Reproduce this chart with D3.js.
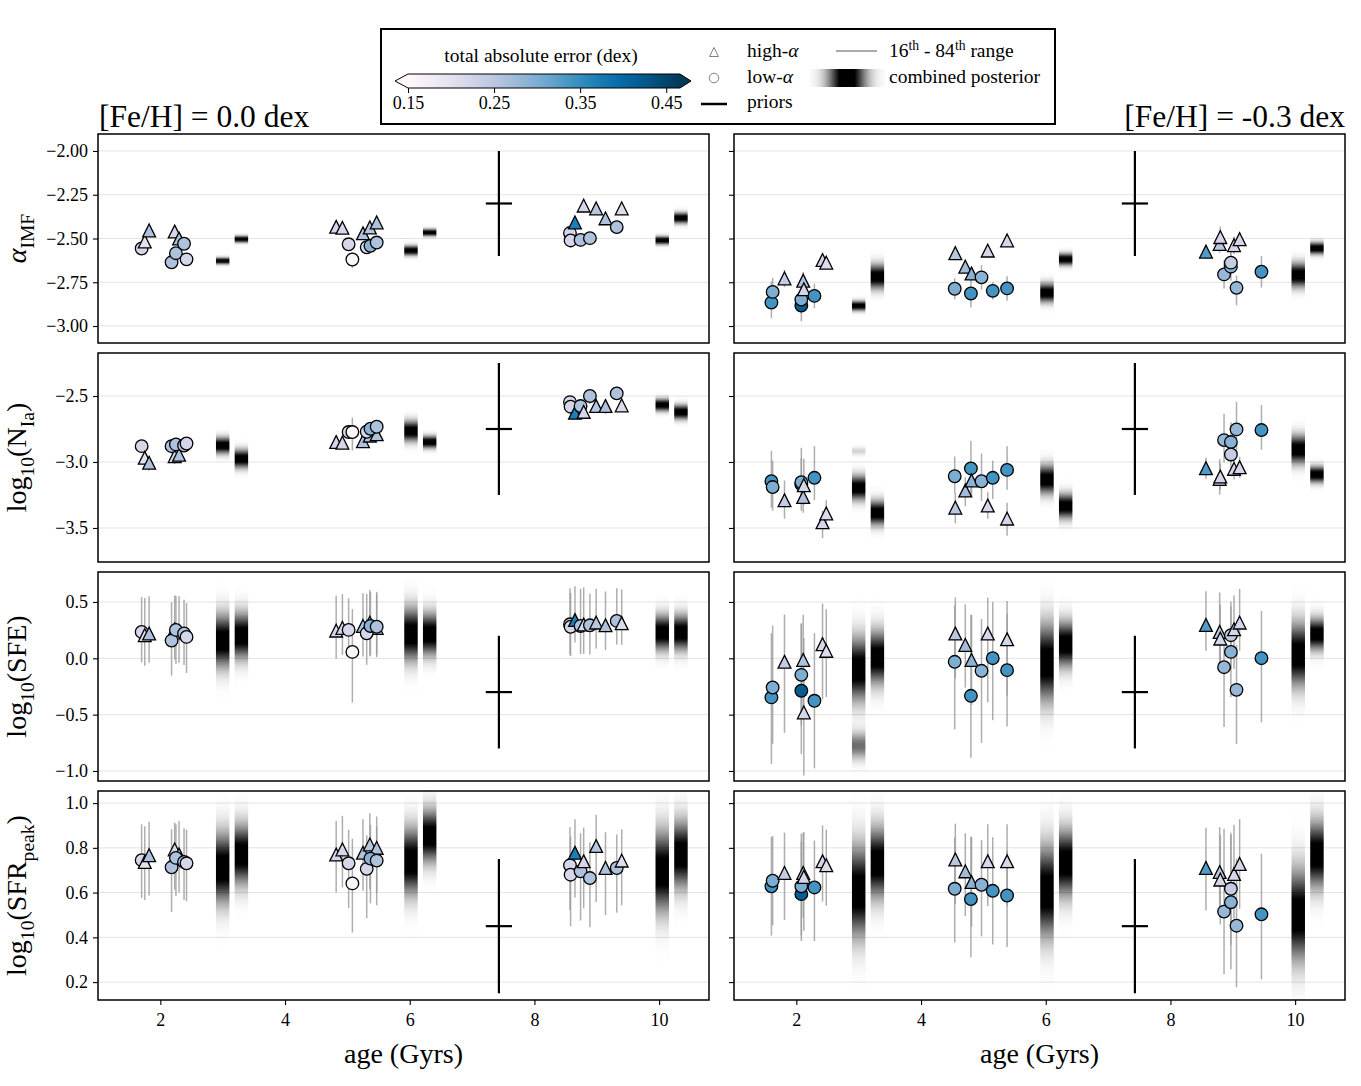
<!DOCTYPE html>
<html>
<head>
<meta charset="utf-8">
<script src="https://cdn.jsdelivr.net/npm/d3@7"></script>
<style>
  body { margin: 0; background: #fff; }
  svg text { font-family: "Liberation Serif", "DejaVu Serif", serif; fill: #000; }
</style>
</head>
<body>
<div id="chart"></div>
<script>
// ---------------------------//
//       DATA                 //
// ---------------------------//
// stars: [age (Gyr), population, total absolute error (dex)]
const starsFe00 = [
  [1.70, "low", 0.22], [1.75, "high", 0.20], [1.82, "high", 0.26], [2.23, "high", 0.22], [2.30, "high", 0.26],
  [2.18, "low", 0.26], [2.25, "low", 0.26], [2.38, "low", 0.26], [2.42, "low", 0.22],
  [4.82, "high", 0.22], [4.92, "high", 0.22], [5.02, "low", 0.22], [5.08, "low", 0.16], [5.25, "high", 0.26],
  [5.36, "high", 0.25], [5.47, "high", 0.26], [5.31, "low", 0.22], [5.37, "low", 0.29], [5.47, "low", 0.26],
  [8.57, "low", 0.22], [8.58, "low", 0.22], [8.65, "high", 0.37], [8.74, "low", 0.26], [8.79, "high", 0.22],
  [8.89, "low", 0.26], [8.99, "high", 0.25], [9.14, "high", 0.26], [9.32, "low", 0.26], [9.40, "high", 0.21]
];
const starsFe03 = [
  [1.60, "low", 0.34], [1.62, "low", 0.30], [1.81, "high", 0.24], [2.08, "low", 0.42], [2.08, "low", 0.30],
  [2.11, "high", 0.26], [2.12, "high", 0.22], [2.29, "low", 0.34], [2.42, "high", 0.22], [2.48, "high", 0.21],
  [4.54, "low", 0.30], [4.55, "high", 0.25], [4.71, "high", 0.27], [4.80, "low", 0.34], [4.81, "high", 0.29],
  [4.97, "low", 0.29], [5.07, "high", 0.22], [5.15, "low", 0.34], [5.38, "high", 0.22], [5.38, "low", 0.34],
  [8.57, "high", 0.33], [8.79, "high", 0.25], [8.80, "high", 0.22], [8.86, "low", 0.28], [8.97, "low", 0.29],
  [8.97, "low", 0.24], [9.02, "high", 0.22], [9.06, "low", 0.28], [9.11, "high", 0.22], [9.46, "low", 0.34]
];

// per panel, one entry per star: [median, median - 16th, 84th - median]
const alphaFe00 = [
  [-2.557, 0.03, 0.03], [-2.517, 0.03, 0.03], [-2.454, 0.03, 0.03], [-2.46, 0.03, 0.03], [-2.50, 0.03, 0.03],
  [-2.636, 0.03, 0.03], [-2.584, 0.03, 0.03], [-2.53, 0.03, 0.03], [-2.619, 0.03, 0.03],
  [-2.433, 0.03, 0.03], [-2.439, 0.03, 0.03], [-2.533, 0.03, 0.03], [-2.62, 0.05, 0.04], [-2.47, 0.03, 0.03],
  [-2.437, 0.03, 0.03], [-2.408, 0.03, 0.03], [-2.55, 0.03, 0.03], [-2.542, 0.03, 0.03], [-2.523, 0.03, 0.03],
  [-2.469, 0.03, 0.03], [-2.511, 0.04, 0.03], [-2.408, 0.03, 0.03], [-2.508, 0.04, 0.03], [-2.312, 0.03, 0.03],
  [-2.498, 0.04, 0.03], [-2.328, 0.03, 0.03], [-2.385, 0.03, 0.03], [-2.435, 0.04, 0.03], [-2.328, 0.03, 0.03]
];
const nIaFe00 = [
  [-2.88, 0.05, 0.05], [-2.968, 0.05, 0.05], [-3.006, 0.06, 0.05], [-2.956, 0.06, 0.05], [-2.945, 0.06, 0.05],
  [-2.88, 0.06, 0.05], [-2.867, 0.05, 0.05], [-2.875, 0.05, 0.05], [-2.86, 0.05, 0.05],
  [-2.849, 0.05, 0.05], [-2.854, 0.05, 0.05], [-2.773, 0.05, 0.05], [-2.773, 0.14, 0.11], [-2.842, 0.05, 0.05],
  [-2.80, 0.05, 0.05], [-2.79, 0.05, 0.05], [-2.771, 0.05, 0.05], [-2.748, 0.05, 0.05], [-2.733, 0.05, 0.05],
  [-2.546, 0.05, 0.05], [-2.581, 0.05, 0.05], [-2.627, 0.05, 0.05], [-2.576, 0.06, 0.05], [-2.62, 0.05, 0.05],
  [-2.50, 0.06, 0.05], [-2.576, 0.05, 0.05], [-2.576, 0.06, 0.05], [-2.48, 0.05, 0.05], [-2.571, 0.05, 0.05]
];
const sfeFe00 = [
  [0.234, 0.27, 0.31], [0.205, 0.27, 0.33], [0.22, 0.26, 0.33], [0.258, 0.27, 0.30], [0.23, 0.27, 0.32],
  [0.157, 0.31, 0.34], [0.252, 0.30, 0.30], [0.22, 0.28, 0.30], [0.19, 0.32, 0.30],
  [0.246, 0.25, 0.31], [0.27, 0.24, 0.30], [0.252, 0.24, 0.28], [0.057, 0.45, 0.38], [0.287, 0.27, 0.29],
  [0.317, 0.30, 0.29], [0.27, 0.26, 0.30], [0.222, 0.28, 0.35], [0.287, 0.26, 0.30], [0.28, 0.25, 0.31],
  [0.302, 0.27, 0.32], [0.28, 0.26, 0.30], [0.34, 0.20, 0.30], [0.287, 0.25, 0.33], [0.30, 0.26, 0.33],
  [0.293, 0.26, 0.28], [0.317, 0.23, 0.30], [0.293, 0.22, 0.30], [0.332, 0.21, 0.29], [0.311, 0.19, 0.30]
];
const sfrFe00 = [
  [0.745, 0.17, 0.16], [0.737, 0.17, 0.16], [0.767, 0.18, 0.15], [0.793, 0.18, 0.12], [0.77, 0.17, 0.15],
  [0.713, 0.20, 0.17], [0.755, 0.17, 0.15], [0.737, 0.17, 0.15], [0.731, 0.17, 0.15],
  [0.77, 0.17, 0.15], [0.793, 0.17, 0.15], [0.731, 0.20, 0.15], [0.641, 0.22, 0.20], [0.778, 0.17, 0.15],
  [0.815, 0.20, 0.14], [0.80, 0.20, 0.14], [0.706, 0.22, 0.15], [0.752, 0.20, 0.15], [0.743, 0.20, 0.15],
  [0.722, 0.20, 0.17], [0.68, 0.23, 0.17], [0.778, 0.20, 0.15], [0.695, 0.22, 0.17], [0.74, 0.21, 0.15],
  [0.665, 0.22, 0.16], [0.808, 0.25, 0.14], [0.71, 0.21, 0.16], [0.71, 0.20, 0.15], [0.743, 0.20, 0.14]
];
const alphaFe03 = [
  [-2.866, 0.09, 0.12], [-2.805, 0.08, 0.08], [-2.728, 0.05, 0.05], [-2.883, 0.09, 0.08], [-2.849, 0.08, 0.08],
  [-2.741, 0.05, 0.05], [-2.79, 0.05, 0.05], [-2.828, 0.07, 0.07], [-2.623, 0.03, 0.03], [-2.638, 0.03, 0.03],
  [-2.787, 0.06, 0.06], [-2.584, 0.04, 0.04], [-2.661, 0.04, 0.04], [-2.814, 0.08, 0.15], [-2.70, 0.04, 0.04],
  [-2.722, 0.07, 0.07], [-2.569, 0.03, 0.03], [-2.799, 0.05, 0.05], [-2.511, 0.03, 0.03], [-2.785, 0.07, 0.07],
  [-2.575, 0.04, 0.04], [-2.531, 0.05, 0.05], [-2.492, 0.06, 0.06], [-2.705, 0.08, 0.08], [-2.661, 0.08, 0.08],
  [-2.638, 0.06, 0.06], [-2.538, 0.05, 0.05], [-2.782, 0.10, 0.07], [-2.504, 0.04, 0.04], [-2.69, 0.09, 0.09]
];
const nIaFe03 = [
  [-3.146, 0.20, 0.23], [-3.19, 0.18, 0.20], [-3.29, 0.14, 0.15], [-3.17, 0.20, 0.20], [-3.153, 0.17, 0.26],
  [-3.265, 0.12, 0.12], [-3.176, 0.15, 0.20], [-3.12, 0.17, 0.24], [-3.457, 0.12, 0.09], [-3.39, 0.12, 0.10],
  [-3.108, 0.13, 0.15], [-3.346, 0.12, 0.11], [-3.216, 0.12, 0.10], [-3.049, 0.19, 0.21], [-3.14, 0.12, 0.12],
  [-3.146, 0.15, 0.21], [-3.33, 0.10, 0.10], [-3.12, 0.16, 0.13], [-3.429, 0.13, 0.12], [-3.06, 0.15, 0.18],
  [-3.047, 0.08, 0.08], [-3.128, 0.12, 0.15], [-3.11, 0.10, 0.10], [-2.834, 0.17, 0.20], [-2.849, 0.15, 0.15],
  [-2.943, 0.12, 0.12], [-3.052, 0.08, 0.08], [-2.753, 0.20, 0.21], [-3.04, 0.08, 0.08], [-2.758, 0.15, 0.19]
];
const sfeFe03 = [
  [-0.347, 0.59, 0.57], [-0.259, 0.50, 0.55], [-0.031, 0.63, 0.42], [-0.288, 0.56, 0.60], [-0.147, 0.45, 0.45],
  [-0.014, 0.50, 0.40], [-0.48, 0.56, 0.66], [-0.377, 0.60, 0.60], [0.125, 0.49, 0.36], [0.066, 0.41, 0.37],
  [-0.031, 0.60, 0.50], [0.22, 0.40, 0.32], [0.119, 0.38, 0.36], [-0.333, 0.55, 0.72], [-0.014, 0.40, 0.40],
  [-0.111, 0.64, 0.46], [0.22, 0.61, 0.32], [0.001, 0.55, 0.50], [0.169, 0.50, 0.34], [-0.105, 0.50, 0.50],
  [0.296, 0.23, 0.30], [0.234, 0.30, 0.35], [0.175, 0.30, 0.30], [-0.079, 0.53, 0.25], [0.057, 0.40, 0.40],
  [0.205, 0.30, 0.30], [0.258, 0.35, 0.30], [-0.28, 0.48, 0.40], [0.317, 0.25, 0.30], [0.001, 0.57, 0.42]
];
const sfrFe03 = [
  [0.628, 0.22, 0.22], [0.653, 0.20, 0.20], [0.688, 0.21, 0.18], [0.593, 0.21, 0.27], [0.628, 0.22, 0.20],
  [0.688, 0.20, 0.18], [0.67, 0.24, 0.20], [0.623, 0.24, 0.21], [0.74, 0.18, 0.16], [0.722, 0.18, 0.16],
  [0.617, 0.24, 0.23], [0.748, 0.20, 0.16], [0.695, 0.20, 0.17], [0.571, 0.26, 0.28], [0.647, 0.20, 0.20],
  [0.635, 0.23, 0.20], [0.74, 0.20, 0.165], [0.608, 0.24, 0.24], [0.74, 0.20, 0.165], [0.587, 0.23, 0.20],
  [0.71, 0.19, 0.18], [0.692, 0.20, 0.20], [0.658, 0.20, 0.20], [0.515, 0.28, 0.37], [0.557, 0.30, 0.30],
  [0.617, 0.25, 0.25], [0.683, 0.20, 0.22], [0.452, 0.275, 0.30], [0.728, 0.20, 0.20], [0.503, 0.29, 0.27]
];

// combined posteriors: [age, mean, sigma, (second mode mean, sigma, weight)]
const postAlphaFe00 = [[3.0, -2.628, 0.012], [3.3, -2.504, 0.012], [6.02, -2.569, 0.018], [6.32, -2.466, 0.013], [10.05, -2.511, 0.015], [10.35, -2.383, 0.02]];
const postNIaFe00 = [[3.0, -2.875, 0.04], [3.3, -2.976, 0.045], [6.02, -2.766, 0.05], [6.32, -2.849, 0.03], [10.05, -2.568, 0.03], [10.35, -2.622, 0.035]];
const postSfeFe00 = [[3.0, 0.155, 0.15], [3.3, 0.2, 0.13], [6.02, 0.214, 0.15], [6.32, 0.214, 0.12], [10.05, 0.228, 0.1], [10.35, 0.228, 0.1]];
const postSfrFe00 = [[3.0, 0.71, 0.1], [3.3, 0.77, 0.085], [6.02, 0.74, 0.095], [6.32, 0.853, 0.075], [10.05, 0.695, 0.115], [10.35, 0.77, 0.095]];
const postAlphaFe03 = [[3.0, -2.885, 0.018], [3.3, -2.718, 0.045], [6.02, -2.81, 0.035], [6.32, -2.619, 0.022], [10.05, -2.709, 0.045], [10.35, -2.556, 0.022]];
const postNIaFe03 = [[3.0, -3.196, 0.06, -2.918, 0.02, 0.15], [3.3, -3.386, 0.06], [6.02, -3.133, 0.07], [6.32, -3.335, 0.06], [10.05, -2.905, 0.07], [10.35, -3.095, 0.04]];
const postSfeFe03 = [[3.0, -0.096, 0.18, -0.775, 0.08, 0.5], [3.3, 0.007, 0.15], [6.02, -0.037, 0.22], [6.32, 0.125, 0.13], [10.05, 0.032, 0.18], [10.35, 0.214, 0.09]];
const postSfrFe03 = [[3.0, 0.605, 0.13], [3.3, 0.733, 0.1], [6.02, 0.605, 0.13], [6.32, 0.733, 0.095], [10.05, 0.5, 0.13], [10.35, 0.77, 0.095]];

// priors: centre and half range for each parameter
const priorAge = 7.43;
const priorMean = [-2.3, -2.75, -0.3, 0.45];
const priorHalf = [0.3, 0.5, 0.5, 0.3];

const panelTitles = ["[Fe/H] = 0.0 dex", "[Fe/H] = -0.3 dex"];
const ageTicks = [2, 4, 6, 8, 10];
const yTicks = [[-2.0, -2.25, -2.5, -2.75, -3.0], [-2.5, -3.0, -3.5], [0.5, 0.0, -0.5, -1.0], [1.0, 0.8, 0.6, 0.4, 0.2]];
const yFormats = [".2f", ".1f", ".1f", ".1f"];
const yDomains = [[-3.097, -1.903], [-3.758, -2.174], [-1.089, 0.766], [0.12, 1.054]];
const ageDomain = [1.0, 10.8];
const errRange = [0.15, 0.466];
const colorTicks = [0.15, 0.25, 0.35, 0.45];

// ---------------------------//
//       LAYOUT               //
// ---------------------------//
var W = 1361, H = 1086;
var colX = [[98, 709], [734, 1345]];
var rowY = [[134, 343], [353, 562], [572, 781], [791, 1000]];
var stripHalf = 0.108; // half width of posterior strips, in Gyr
var tickFont = "18px", legFont = 19.5;

var starSets = [starsFe00, starsFe03];
var valueSets = [[alphaFe00, nIaFe00, sfeFe00, sfrFe00], [alphaFe03, nIaFe03, sfeFe03, sfrFe03]];
var postSets = [[postAlphaFe00, postNIaFe00, postSfeFe00, postSfrFe00], [postAlphaFe03, postNIaFe03, postSfeFe03, postSfrFe03]];

var svg = d3.select("#chart").append("svg")
  .attr("width", W)
  .attr("height", H);
var defs = svg.append("defs");

var color = d3.scaleSequential(d3.interpolatePuBu).domain(errRange).clamp(true);

// writes text with sub/superscripts; parts = [text, "n"|"sub"|"sup", italic]
function richText(sel, parts, size) {
  var cur = 0;
  parts.forEach(function(p) {
    var t = sel.append("tspan").text(p[0]);
    var shift = 0;
    if (p[1] === "sub") { shift = size * 0.28; t.style("font-size", (size * 0.7) + "px"); }
    if (p[1] === "sup") { shift = -size * 0.38; t.style("font-size", (size * 0.7) + "px"); }
    t.attr("dy", shift - cur);
    cur = shift;
    if (p[2]) t.style("font-style", "italic");
  });
}

function trianglePath(s) {
  return "M0," + (-s) + "L" + s + "," + s + "L" + (-s) + "," + s + "Z";
}

function density(p, v) {
  var d = Math.exp(-0.5 * Math.pow((v - p[1]) / p[2], 2));
  if (p.length > 3) d += p[5] * Math.exp(-0.5 * Math.pow((v - p[3]) / p[4], 2));
  return d;
}

// ---------------------------//
//       PANELS               //
// ---------------------------//
function drawPanel(ci, ri) {
  var x0 = colX[ci][0], x1 = colX[ci][1], y0 = rowY[ri][0], y1 = rowY[ri][1];
  var x = d3.scaleLinear().domain(ageDomain).range([x0, x1]);
  var y = d3.scaleLinear().domain(yDomains[ri]).range([y1, y0]);
  var stars = starSets[ci], vals = valueSets[ci][ri], posts = postSets[ci][ri];
  var g = svg.append("g");

  var clipId = "clip-" + ci + "-" + ri;
  defs.append("clipPath").attr("id", clipId)
    .append("rect").attr("x", x0).attr("y", y0).attr("width", x1 - x0).attr("height", y1 - y0);

  // gridlines
  g.selectAll(".grid").data(yTicks[ri]).enter().append("line")
    .attr("x1", x0).attr("x2", x1)
    .attr("y1", function(d) { return y(d); })
    .attr("y2", function(d) { return y(d); })
    .attr("stroke", "#e3e3e3")
    .attr("stroke-width", 1);

  var inner = g.append("g").attr("clip-path", "url(#" + clipId + ")");

  // combined posterior strips
  posts.forEach(function(p, k) {
    var gid = "post-" + ci + "-" + ri + "-" + k;
    var grad = defs.append("linearGradient").attr("id", gid)
      .attr("gradientUnits", "userSpaceOnUse")
      .attr("x1", 0).attr("x2", 0).attr("y1", y0).attr("y2", y1);
    var n = 140, samples = [], peak = 0;
    for (var i = 0; i <= n; i++) {
      var d = density(p, y.invert(y0 + (y1 - y0) * i / n));
      samples.push(d);
      if (d > peak) peak = d;
    }
    samples.forEach(function(d, i) {
      grad.append("stop")
        .attr("offset", (i / n * 100) + "%")
        .attr("stop-color", "#000")
        .attr("stop-opacity", Math.min(1, 1.15 * d / peak));
    });
    inner.append("rect")
      .attr("x", x(p[0] - stripHalf))
      .attr("width", x(p[0] + stripHalf) - x(p[0] - stripHalf))
      .attr("y", y0).attr("height", y1 - y0)
      .attr("fill", "url(#" + gid + ")");
  });

  // prior cross
  inner.append("line")
    .attr("x1", x(priorAge)).attr("x2", x(priorAge))
    .attr("y1", y(priorMean[ri] - priorHalf[ri])).attr("y2", y(priorMean[ri] + priorHalf[ri]))
    .attr("stroke", "#000").attr("stroke-width", 2.2);
  inner.append("line")
    .attr("x1", x(priorAge - 0.21)).attr("x2", x(priorAge + 0.21))
    .attr("y1", y(priorMean[ri])).attr("y2", y(priorMean[ri]))
    .attr("stroke", "#000").attr("stroke-width", 2.2);

  // 16th - 84th ranges
  inner.selectAll(".err").data(vals).enter().append("line")
    .attr("x1", function(d, i) { return x(stars[i][0]); })
    .attr("x2", function(d, i) { return x(stars[i][0]); })
    .attr("y1", function(d) { return y(d[0] - d[1]); })
    .attr("y2", function(d) { return y(d[0] + d[2]); })
    .attr("stroke", "#9a9a9a")
    .attr("stroke-opacity", 0.8)
    .attr("stroke-width", 1.5);

  // stars
  inner.selectAll(".star").data(vals).enter().append("path")
    .attr("d", function(d, i) {
      return stars[i][1] === "high" ? trianglePath(6.4) : d3.symbol(d3.symbolCircle, Math.PI * 6.3 * 6.3)();
    })
    .attr("transform", function(d, i) { return "translate(" + x(stars[i][0]) + "," + y(d[0]) + ")"; })
    .attr("fill", function(d, i) { return color(stars[i][2]); })
    .attr("stroke", "#000")
    .attr("stroke-width", 1.3)
    .attr("stroke-linejoin", "miter");

  // frame
  g.append("rect")
    .attr("x", x0).attr("y", y0).attr("width", x1 - x0).attr("height", y1 - y0)
    .attr("fill", "none").attr("stroke", "#000").attr("stroke-width", 1.5);

  // y axis
  var yAxis = d3.axisLeft(y).tickValues(yTicks[ri]).tickSize(5).tickPadding(5)
    .tickFormat(ci === 0 ? d3.format(yFormats[ri]) : "");
  var gY = g.append("g").attr("transform", "translate(" + x0 + ",0)").call(yAxis);
  gY.select(".domain").remove();
  gY.selectAll("line").attr("stroke-width", 1.1);
  gY.selectAll("text").style("font-family", "'Liberation Serif', serif").style("font-size", tickFont);

  // x axis on bottom row
  if (ri === 3) {
    var xAxis = d3.axisBottom(x).tickValues(ageTicks).tickSize(5).tickPadding(8);
    var gX = g.append("g").attr("transform", "translate(0," + y1 + ")").call(xAxis);
    gX.select(".domain").remove();
    gX.selectAll("line").attr("stroke-width", 1.1);
    gX.selectAll("text").style("font-family", "'Liberation Serif', serif").style("font-size", tickFont);
    svg.append("text")
      .attr("x", (x0 + x1) / 2).attr("y", 1063)
      .attr("text-anchor", "middle")
      .style("font-size", "28px")
      .text("age (Gyrs)");
  }
}

for (var ci = 0; ci < 2; ci++) {
  for (var ri = 0; ri < 4; ri++) drawPanel(ci, ri);
}

// panel titles
svg.append("text").attr("x", 99).attr("y", 127).style("font-size", "31.5px").text(panelTitles[0]);
svg.append("text").attr("x", 1345).attr("y", 127).attr("text-anchor", "end").style("font-size", "31.5px").text(panelTitles[1]);

// y labels
var yLabels = [
  [["α", "n", true], ["IMF", "sub"]],
  [["log", "n"], ["10", "sub"], ["(N", "n"], ["Ia", "sub"], [")", "n"]],
  [["log", "n"], ["10", "sub"], ["(SFE)", "n"]],
  [["log", "n"], ["10", "sub"], ["(SFR", "n"], ["peak", "sub"], [")", "n"]]
];
yLabels.forEach(function(parts, ri) {
  var mid = (rowY[ri][0] + rowY[ri][1]) / 2;
  var t = svg.append("text")
    .attr("transform", "translate(26," + mid + ") rotate(-90)")
    .attr("text-anchor", "middle")
    .style("font-size", "28px");
  richText(t, parts, 28);
});

// ---------------------------//
//       LEGEND               //
// ---------------------------//
var leg = svg.append("g");
leg.append("rect")
  .attr("x", 381).attr("y", 29).attr("width", 674).attr("height", 95)
  .attr("fill", "#fff").attr("stroke", "#000").attr("stroke-width", 2);

// colorbar
var cb = d3.scaleLinear().domain(errRange).range([408, 680]);
var cbGrad = defs.append("linearGradient").attr("id", "cbgrad");
d3.range(0, 1.0001, 0.05).forEach(function(t) {
  cbGrad.append("stop").attr("offset", (t * 100) + "%").attr("stop-color", d3.interpolatePuBu(t));
});
leg.append("path")
  .attr("d", "M" + cb(errRange[0]) + ",74L" + (cb(errRange[0]) - 13) + ",81L" + cb(errRange[0]) + ",88Z")
  .attr("fill", d3.interpolatePuBu(0));
leg.append("path")
  .attr("d", "M" + cb(errRange[1]) + ",74L" + (cb(errRange[1]) + 11) + ",81L" + cb(errRange[1]) + ",88Z")
  .attr("fill", d3.interpolatePuBu(1));
leg.append("rect")
  .attr("x", cb(errRange[0])).attr("y", 74)
  .attr("width", cb(errRange[1]) - cb(errRange[0])).attr("height", 14)
  .attr("fill", "url(#cbgrad)");
leg.append("path")
  .attr("d", "M" + cb(errRange[0]) + ",74L" + (cb(errRange[0]) - 13) + ",81L" + cb(errRange[0]) + ",88" +
    "L" + cb(errRange[1]) + ",88L" + (cb(errRange[1]) + 11) + ",81L" + cb(errRange[1]) + ",74Z")
  .attr("fill", "none").attr("stroke", "#000").attr("stroke-width", 1);
var cbAxis = d3.axisBottom(cb).tickValues(colorTicks).tickSize(5).tickPadding(3).tickFormat(d3.format(".2f"));
var gCb = leg.append("g").attr("transform", "translate(0,88)").call(cbAxis);
gCb.select(".domain").remove();
gCb.selectAll("text").style("font-family", "'Liberation Serif', serif").style("font-size", tickFont);
leg.append("text").attr("x", 541).attr("y", 62).attr("text-anchor", "middle")
  .style("font-size", legFont + "px").text("total absolute error (dex)");

// marker keys
leg.append("path").attr("d", trianglePath(4.5)).attr("transform", "translate(714,52)")
  .attr("fill", "none").attr("stroke", "#808080").attr("stroke-width", 1);
leg.append("circle").attr("cx", 714).attr("cy", 78).attr("r", 4.8)
  .attr("fill", "none").attr("stroke", "#808080").attr("stroke-width", 1);
leg.append("line").attr("x1", 701).attr("x2", 727).attr("y1", 104).attr("y2", 104)
  .attr("stroke", "#000").attr("stroke-width", 2.5);
var t1 = leg.append("text").attr("x", 747).attr("y", 57).style("font-size", legFont + "px");
richText(t1, [["high-", "n"], ["α", "n", true]], legFont);
var t2 = leg.append("text").attr("x", 747).attr("y", 83).style("font-size", legFont + "px");
richText(t2, [["low-", "n"], ["α", "n", true]], legFont);
leg.append("text").attr("x", 747).attr("y", 108).style("font-size", legFont + "px").text("priors");

leg.append("line").attr("x1", 836).attr("x2", 877).attr("y1", 51).attr("y2", 51)
  .attr("stroke", "#aaa").attr("stroke-width", 2);
var swGrad = defs.append("linearGradient").attr("id", "swgrad");
d3.range(0, 1.0001, 0.05).forEach(function(t) {
  var z = (t - 0.5) / 0.17;
  swGrad.append("stop").attr("offset", (t * 100) + "%")
    .attr("stop-color", "#000").attr("stop-opacity", Math.min(1, 1.2 * Math.exp(-0.5 * z * z)));
});
leg.append("rect").attr("x", 809).attr("y", 69).attr("width", 76).attr("height", 18).attr("fill", "url(#swgrad)");
var t3 = leg.append("text").attr("x", 889).attr("y", 57).style("font-size", legFont + "px");
richText(t3, [["16", "n"], ["th", "sup"], [" - 84", "n"], ["th", "sup"], [" range", "n"]], legFont);
leg.append("text").attr("x", 889).attr("y", 83).style("font-size", legFont + "px").text("combined posterior");
</script>
</body>
</html>
